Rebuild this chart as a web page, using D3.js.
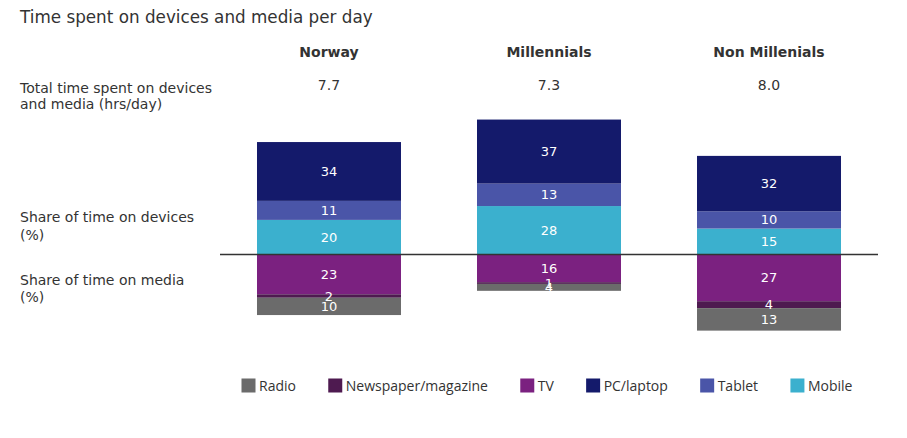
<!DOCTYPE html>
<html><head><meta charset="utf-8">
<script src="https://cdn.jsdelivr.net/npm/d3@7"></script>
<style>body{margin:0;background:#fff}svg{display:block}</style>
</head><body><svg id="c" width="907" height="438"></svg>
<script>
const groups = ["Norway","Millennials","Non Millenials"];
const totals = ["7.7","7.3","8.0"];
const deviceKeys = ["Mobile","Tablet","PC/laptop"];   // stacked upward from baseline
const mediaKeys = ["TV","Newspaper/magazine","Radio"]; // stacked downward from baseline
const mobile = [20,28,15];
const tablet = [11,13,10];
const pc = [34,37,32];
const tv = [23,16,27];
const newspaper = [2,1,4];
const radio = [10,4,13];
const legendKeys = ["Radio","Newspaper/magazine","TV","PC/laptop","Tablet","Mobile"];
const colors = {"Radio":"#6b6b6b","Newspaper/magazine":"#4e1a50","TV":"#7b2180","PC/laptop":"#141a6b","Tablet":"#4a55a8","Mobile":"#3bb0ce"};

const seriesVals = {"Mobile":mobile,"Tablet":tablet,"PC/laptop":pc,"TV":tv,"Newspaper/magazine":newspaper,"Radio":radio};
const svg = d3.select("#c");
const font = "DejaVu Sans, Verdana, sans-serif";
const txt = "#333";

const x = d3.scaleBand().domain(groups).range([219,879]).paddingInner(0.3455).paddingOuter(0.1727);
const base = 254.5;
const y = d3.scaleLinear().domain([0,100]).range([0,173]); // length per %

svg.append("text").attr("x",20).attr("y",23).attr("font-family",font).attr("font-size",16.8).attr("fill",txt)
  .text("Time spent on devices and media per day");

svg.selectAll(".hdr").data(groups).join("text").attr("class","hdr")
  .attr("x",d=>x(d)+x.bandwidth()/2).attr("y",57).attr("text-anchor","middle")
  .attr("font-family",font).attr("font-size",14).attr("font-weight","bold").attr("fill",txt).text(d=>d);
svg.selectAll(".tot").data(groups).join("text").attr("class","tot")
  .attr("x",d=>x(d)+x.bandwidth()/2).attr("y",90).attr("text-anchor","middle")
  .attr("font-family",font).attr("font-size",14).attr("fill",txt).text((d,i)=>totals[i]);

const leftLabels = [["Total time spent on devices",93],["and media (hrs/day)",109],["Share of time on devices",222],["(%)",240],["Share of time on media",285],["(%)",302]];
svg.selectAll(".ll").data(leftLabels).join("text").attr("class","ll")
  .attr("x",20).attr("y",d=>d[1]).attr("font-family",font).attr("font-size",14).attr("fill",txt).text(d=>d[0]);

// build segments
const segs = [];
groups.forEach((g,i)=>{
  let acc = 0;
  deviceKeys.forEach(k=>{const v=seriesVals[k][i]; segs.push({g,k,v,y0:base-y(acc+v),y1:base-y(acc)}); acc+=v;});
  acc = 0;
  mediaKeys.forEach(k=>{const v=seriesVals[k][i]; segs.push({g,k,v,y0:base+y(acc),y1:base+y(acc+v)}); acc+=v;});
});
svg.selectAll(".seg").data(segs).join("rect").attr("class","seg")
  .attr("x",d=>x(d.g)).attr("width",x.bandwidth()).attr("y",d=>d.y0).attr("height",d=>d.y1-d.y0)
  .attr("fill",d=>colors[d.k]);
svg.selectAll(".sl").data(segs).join("text").attr("class","sl")
  .attr("x",d=>x(d.g)+x.bandwidth()/2).attr("y",d=>(d.y0+d.y1)/2+4.5).attr("text-anchor","middle")
  .attr("font-family",font).attr("font-size",13).attr("fill","#fff").text(d=>d.v);

svg.append("line").attr("x1",220).attr("x2",878).attr("y1",base).attr("y2",base).attr("stroke","#333").attr("stroke-width",1.5);

// legend
let lx = 241.5;
const lg = svg.append("g");
legendKeys.forEach(k=>{
  lg.append("rect").attr("x",lx).attr("y",378.5).attr("width",14).attr("height",14).attr("fill",colors[k]);
  const t = lg.append("text").attr("x",lx+17.5).attr("y",391).attr("font-family","Open Sans, sans-serif").attr("font-size",14).attr("fill",txt).text(k);
  lx += 17.5 + t.node().getComputedTextLength() + 32.3;
});
</script></body></html>
